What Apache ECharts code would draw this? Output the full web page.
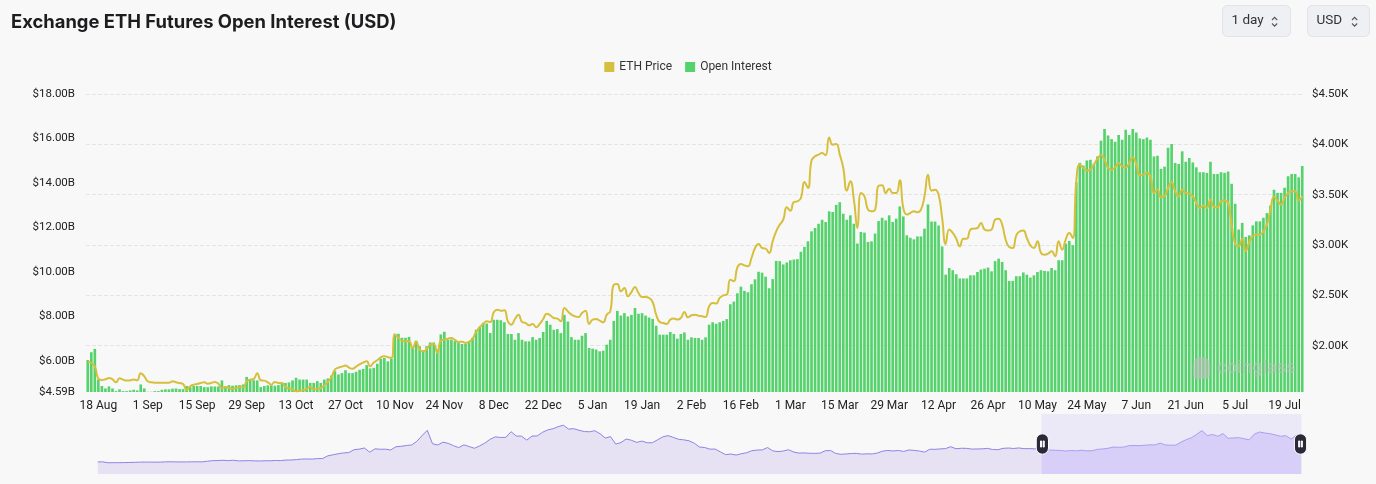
<!DOCTYPE html>
<html><head><meta charset="utf-8">
<script src="https://cdn.jsdelivr.net/npm/echarts@6/dist/echarts.min.js"></script>
<style>html,body{margin:0;padding:0;background:#f8f8f8;}#c{width:1376px;height:484px;}</style>
</head><body><div id="c"></div>
<script>
// first day of the daily window
const startYMD = [2023, 7, 15];
const monthNames = ['Jan','Feb','Mar','Apr','May','Jun','Jul','Aug','Sep','Oct','Nov','Dec'];

// Open interest, billions USD (daily)
const openInterestB = [
6.03,6.38,6.53,5.15,4.86,4.75,4.84,4.75,4.63,4.71,
4.63,4.63,4.66,4.69,4.66,4.93,4.75,4.60,4.60,4.63,
4.63,4.69,4.71,4.71,4.74,4.75,4.72,4.72,4.86,4.81,
4.86,4.86,4.86,4.81,4.81,4.84,4.84,4.84,5.11,4.84,
4.90,4.87,4.89,4.90,4.93,5.27,5.15,5.12,5.11,4.81,
4.86,4.89,4.89,4.87,4.90,4.96,5.00,5.02,5.11,5.23,
5.15,5.15,5.15,5.00,5.00,5.08,5.00,5.15,5.20,5.33,
5.53,5.38,5.44,5.57,5.44,5.44,5.50,5.59,5.63,5.80,
5.65,5.68,5.86,6.09,6.12,5.97,6.09,7.21,7.21,7.03,
7.03,7.07,6.57,6.90,6.65,6.47,6.65,6.82,6.82,6.50,
7.18,7.30,6.95,6.95,6.88,6.82,6.75,6.75,6.88,7.03,
7.39,7.52,7.70,7.67,7.25,7.84,7.84,7.82,7.73,7.20,
7.20,6.94,7.24,6.94,6.87,6.87,7.06,6.94,7.02,7.29,
7.79,7.62,7.39,7.42,7.24,8.06,7.76,7.06,6.94,6.94,
7.12,7.24,6.57,6.54,6.50,6.42,6.45,6.72,6.94,7.79,
8.24,8.03,8.14,7.99,8.06,8.37,8.11,8.14,8.03,7.94,
7.88,7.57,7.17,7.17,7.17,7.29,7.20,6.99,7.20,7.27,
6.94,7.05,7.02,7.02,6.94,7.05,7.62,7.73,7.66,7.73,
7.79,7.87,8.54,8.66,9.03,9.33,9.14,9.08,9.44,9.66,
10.00,9.96,9.78,9.26,9.67,10.49,10.48,10.33,10.42,10.52,
10.55,10.57,10.90,11.12,11.37,11.82,11.97,12.16,12.34,12.24,
12.72,12.69,13.01,13.13,12.61,12.34,12.54,12.16,11.27,11.79,
11.76,11.34,11.37,11.72,12.28,12.43,12.31,12.54,12.24,12.39,
12.94,12.49,11.64,11.53,11.46,11.59,11.59,11.94,13.03,12.26,
12.26,12.08,11.14,9.87,10.17,10.07,9.89,9.70,9.70,9.70,
9.84,9.84,9.99,10.10,10.14,10.19,10.02,10.48,10.59,10.44,
10.07,9.59,9.59,9.80,9.80,9.97,9.87,9.74,9.84,9.99,
10.07,10.04,10.02,10.17,10.07,10.52,10.52,11.27,11.39,11.20,
14.03,14.90,14.78,15.01,15.04,14.86,15.19,15.90,16.43,16.13,
15.97,15.85,16.15,15.94,16.39,16.15,16.42,16.27,16.00,15.97,
16.04,15.94,15.19,15.22,14.63,14.73,15.58,15.75,14.90,14.85,
15.42,14.95,15.12,14.92,14.70,14.48,14.48,14.45,14.95,14.40,
14.40,14.48,14.45,14.51,13.96,13.06,11.90,12.20,11.57,11.64,
12.09,12.27,12.27,12.43,12.64,12.98,13.69,13.55,13.55,13.78,
14.30,14.40,14.40,14.25,14.76
];

// ETH price, USD (daily)
const ethPrice = [
1838,1828,1795,1673,1659,1666,1679,1666,1636,1676,
1663,1653,1656,1663,1656,1726,1696,1646,1636,1633,
1633,1633,1633,1633,1646,1636,1630,1620,1560,1597,
1613,1620,1630,1636,1623,1630,1640,1623,1580,1590,
1583,1573,1580,1587,1587,1646,1663,1669,1726,1656,
1653,1636,1613,1640,1630,1630,1587,1576,1567,1547,
1553,1560,1570,1593,1567,1570,1580,1603,1640,1686,
1762,1782,1792,1802,1782,1772,1792,1815,1832,1845,
1795,1832,1855,1885,1895,1885,1878,2110,2077,2050,
2044,2044,1977,2037,1961,1944,1964,2011,2017,1928,
2050,2060,2070,2077,2057,2037,2040,2027,2037,2070,
2136,2183,2216,2242,2236,2332,2358,2348,2352,2242,
2209,2265,2308,2236,2226,2203,2216,2183,2216,2265,
2318,2302,2275,2269,2242,2375,2341,2308,2292,2285,
2325,2348,2216,2259,2265,2249,2232,2308,2341,2606,
2613,2540,2573,2490,2533,2583,2523,2484,2484,2474,
2434,2308,2236,2226,2216,2259,2269,2259,2275,2335,
2282,2302,2308,2297,2292,2285,2391,2424,2418,2474,
2500,2507,2656,2640,2778,2811,2798,2788,2871,2970,
3010,2970,2964,2921,3037,3136,3202,3252,3374,3341,
3427,3434,3467,3626,3566,3838,3881,3898,3914,3891,
4069,3997,4003,3898,3765,3540,3633,3450,3169,3517,
3484,3351,3335,3351,3589,3593,3517,3560,3517,3517,
3643,3368,3302,3318,3335,3325,3351,3484,3699,3540,
3550,3500,3269,3010,3153,3120,3063,2987,3063,3063,
3153,3163,3169,3219,3153,3143,3153,3252,3262,3202,
3053,2980,2970,3096,3136,3143,3070,2997,2970,3037,
2921,2904,2914,2937,2888,3037,2954,3053,3120,3070,
3633,3799,3765,3739,3749,3799,3858,3891,3848,3765,
3748,3771,3814,3781,3771,3814,3871,3798,3692,3699,
3715,3682,3517,3550,3474,3484,3567,3623,3533,3484,
3550,3517,3510,3484,3418,3368,3391,3368,3451,3378,
3375,3434,3441,3418,3202,3010,2987,3063,2937,3030,
3087,3103,3103,3136,3202,3351,3480,3441,3401,3467,
3517,3533,3533,3441,3484
];

// Longer ETH price history for the zoom slider shadow (weekly, Feb 2020 - Aug 2023)
const historyWeeklyPrice = [
225,235,125,130,135,140,158,170,195,210,200,195,205,235,245,230,228,225,240,240,235,310,385,395,430,390,430,350,370,385,355,345,365,370,405,385,455,460,510,575,590,570,640,640,975,
1100,1230,1330,1370,1720,1800,1930,1420,1830,1780,1790,1690,2080,2140,2240,2300,2750,3450,4100,2450,2300,2650,2500,2220,1980,2320,2110,1900,2190,2540,3000,3300,3220,3240,3930,3400,3390,2900,3390,3420,3850,4150,4290,4550,4720,4250,4300,4100,3950,3920,4050,3680,
3150,3330,2410,2600,3030,2880,2620,2780,2570,2580,2940,3300,3450,3230,3000,2930,2820,2520,2050,1990,1790,1800,1450,1120,1190,1070,1230,1350,1600,1680,1700,1990,1580,1490,1560,1720,1440,1310,1330,1290,1270,1300,1590,1630,1270,1160,1200,1260,1270,1180,1220,1200,
1320,1550,1630,1570,1630,1510,1690,1640,1560,1430,1780,1770,1820,1860,2090,1840,1900,1890,1800,1810,1830,1890,1750,1720,1890,1930,1870,1940,1850,1860,1830,1850
];

const seriesNames = ['ETH Price', 'Open Interest'];

// ---- derived ----
const dates = openInterestB.map((_, i) => {
  const d = new Date(Date.UTC(startYMD[0], startYMD[1], startYMD[2] + i));
  return d.getUTCDate() + ' ' + monthNames[d.getUTCMonth()];
});
const shadowVals = historyWeeklyPrice.concat(ethPrice.filter((v, i) => i % 7 === 0));
const shadowCats = shadowVals.map((_, i) => String(i));
const startPct = historyWeeklyPrice.length / (shadowVals.length - 1) * 100 - 0.3;

const chart = echarts.init(document.getElementById('c'));
const handlePath = 'path://M6,0 A6,6 0 0 1 12,6 L12,14 A6,6 0 0 1 6,20 A6,6 0 0 1 0,14 L0,6 A6,6 0 0 1 6,0 Z M4.2,7 L4.2,13 L5.2,13 L5.2,7 Z M6.8,7 L6.8,13 L7.8,13 L7.8,7 Z';

function chevrons(x) {
  return [
    {type:'polyline', shape:{points:[[x,20],[x+2.6,17.4],[x+5.2,20]]}, style:{stroke:'#555', lineWidth:1.1, fill:null}},
    {type:'polyline', shape:{points:[[x,23.5],[x+2.6,26.1],[x+5.2,23.5]]}, style:{stroke:'#555', lineWidth:1.1, fill:null}}
  ];
}

const option = {
  backgroundColor: '#f8f8f8',
  animation: false,
  title: {
    text: 'Exchange ETH Futures Open Interest (USD)',
    left: 6, top: 8,
    textStyle: {fontFamily: 'Inter', fontSize: 18.4, fontWeight: 700, color: '#1d1d1f'}
  },
  legend: {
    data: seriesNames, top: 56, left: 'center', icon: 'rect',
    itemWidth: 10, itemHeight: 10, itemGap: 13,
    textStyle: {fontFamily: 'Roboto', fontSize: 12, color: '#333'}
  },
  grid: [
    {left: 86, right: 72, top: 94, bottom: 92},
    {left: 95, right: 77, top: 414, height: 60, show: false}
  ],
  xAxis: [
    {type: 'category', gridIndex: 0, data: dates, boundaryGap: true,
     axisLine: {show: false}, axisTick: {show: false},
     axisLabel: {interval: (idx) => idx >= 3 && (idx - 3) % 14 === 0, color: '#222', fontSize: 12, fontFamily: 'Roboto', margin: 8}},
    {type: 'category', gridIndex: 1, data: shadowCats, show: false}
  ],
  yAxis: [
    {type: 'value', gridIndex: 0, position: 'left', min: 4.59, max: 18, splitNumber: 7,
     splitLine: {show: false}, axisLine: {show: false}, axisTick: {show: false},
     axisLabel: {formatter: v => '$' + v.toFixed(2) + 'B', color: '#222', fontSize: 11.5, fontFamily: 'Roboto', margin: 11, showMinLabel: true}},
    {type: 'value', gridIndex: 0, position: 'right', min: 1540, max: 4500, splitNumber: 6,
     splitLine: {show: true, showMinLine: false, lineStyle: {type: 'dashed', color: '#e4e4e4', width: 1}},
     axisLine: {show: false}, axisTick: {show: false},
     axisLabel: {showMinLabel: false, formatter: v => '$' + (v / 1000).toFixed(2) + 'K', color: '#222', fontSize: 11.5, fontFamily: 'Roboto', margin: 8}},
    {type: 'value', gridIndex: 1, show: false, scale: true}
  ],
  dataZoom: [{
    type: 'slider', xAxisIndex: [1], filterMode: 'none', start: startPct, end: 100,
    left: 95, right: 77, top: 414, height: 60,
    backgroundColor: 'rgba(0,0,0,0)', borderColor: 'rgba(0,0,0,0)', borderRadius: 0,
    showDataShadow: true, showDetail: false, brushSelect: false,
    moveHandleSize: 0, moveHandleStyle: {opacity: 0},
    fillerColor: 'rgba(170,150,245,0.16)',
    dataBackground: {lineStyle: {color: '#8e84e4', width: 1, opacity: 1}, areaStyle: {color: '#e6e2f4', opacity: 1}},
    selectedDataBackground: {lineStyle: {color: '#aaa2ee', width: 1, opacity: 1}, areaStyle: {color: '#e0daf8', opacity: 1}},
    handleIcon: handlePath, handleSize: '34%',
    handleStyle: {color: '#2b2937', borderColor: '#ffffff', borderWidth: 1, opacity: 1},
    emphasis: {handleStyle: {color: '#2b2937', borderColor: '#ffffff'}, moveHandleStyle: {opacity: 0}},
    textStyle: {color: 'rgba(0,0,0,0)'}
  }],
  series: [
    {name: seriesNames[0], type: 'line', xAxisIndex: 0, yAxisIndex: 1, data: ethPrice,
     smooth: true, symbol: 'none', z: 3,
     lineStyle: {color: '#d6bf3c', width: 2}, itemStyle: {color: '#d6bf3c'}},
    {name: seriesNames[1], type: 'bar', xAxisIndex: 0, yAxisIndex: 0, data: openInterestB,
     barCategoryGap: '25%', itemStyle: {color: '#55d26c'}},
    {name: 'history', type: 'line', xAxisIndex: 1, yAxisIndex: 2, data: shadowVals,
     symbol: 'none', silent: true, lineStyle: {opacity: 0}, z: 0}
  ],
  graphic: [
    {type: 'rect', shape: {x: 1222.5, y: 5.5, width: 68, height: 31, r: 5}, style: {fill: '#eff0f3', stroke: '#e1e3e7', lineWidth: 1}},
    {type: 'text', x: 1231.5, y: 21, style: {text: '1 day', fontFamily: 'Roboto', fontSize: 13.5, fill: '#333', verticalAlign: 'middle'}},
    ...chevrons(1272),
    {type: 'rect', shape: {x: 1307.5, y: 5.5, width: 62, height: 31, r: 5}, style: {fill: '#eff0f3', stroke: '#e1e3e7', lineWidth: 1}},
    {type: 'text', x: 1316.5, y: 21, style: {text: 'USD', fontFamily: 'Roboto', fontSize: 13.5, fill: '#333', verticalAlign: 'middle'}},
    ...chevrons(1352),
    {type: 'rect', z: 100, shape: {x: 1193, y: 357, width: 17, height: 22, r: [8, 8, 4, 4]}, style: {fill: 'rgba(190,190,190,0.6)'}},
    {type: 'text', z: 100, x: 1217, y: 368, style: {text: 'coinglass', fontFamily: 'Inter', fontWeight: 600, fontSize: 17, fill: 'rgba(190,190,190,0.6)', verticalAlign: 'middle'}}
  ]
};
chart.setOption(option);
</script>
</body></html>
